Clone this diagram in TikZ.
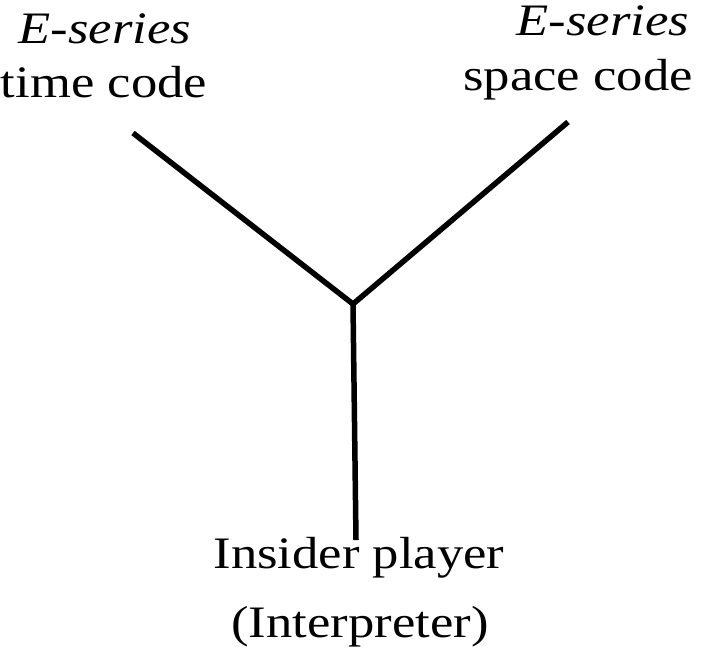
\documentclass[tikz,border=0pt]{standalone}
\usepackage{fontspec}
\setmainfont{Liberation Serif}[FakeStretch=1.17]
\begin{document}
\begin{tikzpicture}[x=1pt,y=-1pt,
  lbl/.style={anchor=base,inner sep=0pt,font=\fontsize{45}{54}\selectfont},
  branch/.style={line width=5.5pt,line cap=butt,line join=miter}]
\useasboundingbox (0,0) rectangle (711,662);
\node[lbl] (te) at (105,43) {\itshape E-series};
\node[lbl] (tc) at (104,97) {time code};
\node[lbl] (se) at (603,35) {\itshape E-series};
\node[lbl] (sc) at (578,90) {space code};
\node[lbl] (ip) at (359,568) {Insider player};
\node[lbl] (in) at (360,637) {(Interpreter)};
\coordinate (a) at (133,133);
\coordinate (b) at (568,122);
\coordinate (j) at (353,304);
\coordinate (c) at (356,540);
\draw[branch] (a) -- (j) -- (b);
\draw[branch] (j) -- (c);
\end{tikzpicture}
\end{document}
